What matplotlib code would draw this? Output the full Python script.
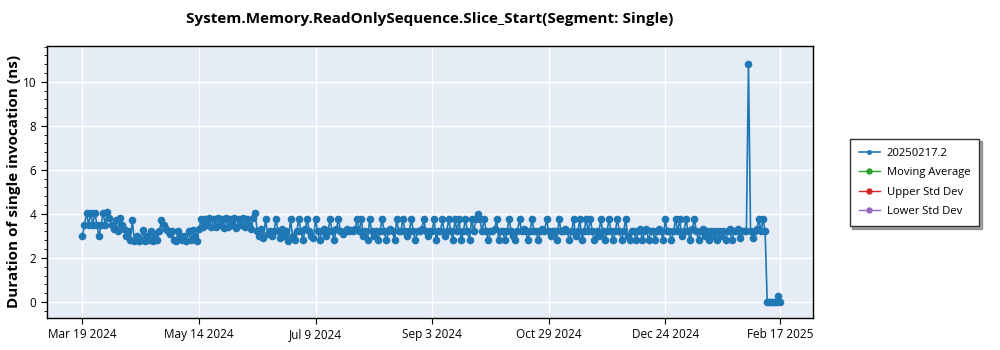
import matplotlib
matplotlib.use("Agg")
import matplotlib.pyplot as plt
import matplotlib.dates as mdates
from matplotlib.ticker import AutoMinorLocator, MultipleLocator
import pandas as pd
import numpy as np

plt.rcParams['font.family'] = ['Open Sans', 'DejaVu Sans']

title = "System.Memory.ReadOnlySequence.Slice_Start(Segment: Single)"
ylabel = "Duration of single invocation (ns)"
series_name = "20250217.2"
start_date = "2024-03-19"
tick_labels_dates = ["2024-03-19", "2024-05-14", "2024-07-09", "2024-09-03",
                     "2024-10-29", "2024-12-24", "2025-02-17"]

# Daily duration measurements (ns), one row per week starting 2024-03-19
durations = [
    3.0, 3.5, 4.05, 3.5, 4.05, 3.5, 4.05,
    3.5, 3.0, 3.5, 4.05, 3.5, 4.1, 3.8,
    3.5, 3.3, 3.7, 3.2, 3.8, 3.5, 3.3,
    3.0, 3.2, 2.8, 3.7, 2.75, 3.0, 2.75,
    2.8, 3.25, 2.75, 3.0, 2.8, 3.2, 2.75,
    3.1, 2.8, 3.2, 3.7, 3.5, 3.3, 3.2,
    3.1, 3.2, 2.8, 2.75, 3.2, 3.0, 2.8,
    3.0, 2.75, 3.2, 2.8, 3.25, 3.0, 2.75,
    3.3, 3.75, 3.4, 3.75, 3.5, 3.8, 3.4,
    3.75, 3.4, 3.8, 3.5, 3.75, 3.35, 3.8,
    3.4, 3.75, 3.5, 3.8, 3.35, 3.75, 3.5,
    3.8, 3.4, 3.75, 3.5, 3.3, 3.8, 4.05,
    3.2, 3.0, 3.3, 2.9, 3.75, 3.1, 3.2,
    3.0, 3.2, 3.75, 3.2, 2.9, 3.3, 3.0,
    3.2, 2.75, 3.75, 3.0, 2.8, 3.2, 3.75,
    3.2, 2.8, 3.3, 3.75, 3.2, 3.0, 2.9,
    3.75, 3.2, 2.8, 3.2, 3.3, 3.0, 3.2,
    3.75, 3.2, 2.8, 3.3, 3.75, 3.2, 3.1,
    3.2, 3.3, 3.2, 3.25, 3.2, 3.3, 3.75,
    3.2, 3.75, 3.0, 3.2, 2.8, 3.75, 3.2,
    3.0, 3.2, 2.8, 3.2, 3.75, 3.2, 2.8,
    3.2, 3.3, 3.2, 2.8, 3.75, 3.2, 3.2,
    3.75, 3.2, 3.0, 3.2, 3.75, 3.2, 2.8,
    3.2, 3.2, 3.3, 3.75, 3.2, 3.0, 3.2,
    3.2, 3.75, 2.8, 3.2, 3.2, 3.75, 3.0,
    3.2, 3.75, 3.2, 2.8, 3.75, 3.2, 3.75,
    2.8, 3.2, 3.75, 3.2, 2.8, 3.75, 3.2,
    3.75, 4.0, 3.75, 3.2, 3.75, 3.2, 2.8,
    3.2, 3.2, 3.3, 3.75, 2.8, 3.2, 3.2,
    2.8, 3.2, 3.75, 3.2, 3.0, 2.8, 3.2,
    3.75, 3.2, 3.3, 3.2, 2.8, 3.2, 3.75,
    3.2, 3.2, 2.8, 3.2, 3.3, 3.2, 3.75,
    3.2, 3.0, 3.2, 3.2, 2.8, 3.75, 3.2,
    3.2, 3.3, 3.2, 2.8, 3.2, 3.75, 3.0,
    3.2, 3.75, 2.8, 3.2, 3.75, 3.2, 3.75,
    3.2, 2.8, 3.2, 3.0, 3.75, 3.2, 2.8,
    3.2, 3.75, 3.2, 2.8, 3.2, 3.75, 3.2,
    2.8, 3.2, 3.75, 3.0, 2.8, 3.2, 3.2,
    2.8, 3.2, 3.3, 2.8, 3.2, 3.3, 2.8,
    3.2, 3.2, 2.8, 3.2, 3.3, 3.2, 2.8,
    3.75, 3.2, 3.2, 2.8, 3.2, 3.75, 3.2,
    3.75, 3.0, 3.2, 3.75, 3.2, 2.8, 3.3,
    3.75, 3.2, 2.8, 3.2, 3.3, 3.0, 3.2,
    2.8, 3.2, 3.0, 3.2, 2.8, 3.2, 3.0,
    3.2, 2.8, 3.2, 3.3, 2.8, 3.2, 3.2,
    3.3, 2.9, 3.2, 3.2, 3.2, 10.8, 3.2,
    2.9, 3.2, 3.3, 3.75, 3.2, 3.75, 3.2,
    0.0, 0.0, 0.0, 0.0, 0.0, 0.25, 0.0,
]

dates = pd.date_range(start_date, periods=len(durations), freq="D")
tick_dates = pd.to_datetime(tick_labels_dates)

fig = plt.figure(figsize=(10, 3.5), dpi=100)
ax = fig.add_axes([0.047, 0.0914, 0.766, 0.778])
ax.set_facecolor("#E5ECF6")

blue = "#1f77b4"
ax.plot(dates, durations, color=blue, lw=1.2, marker="o", ms=5.5,
        markeredgewidth=0, label=series_name, zorder=3)
ax.plot([], [], color="#2ca02c", lw=1.0, marker="o", ms=5.5, label="Moving Average")
ax.plot([], [], color="#d62728", lw=1.0, marker="o", ms=5.5, label="Upper Std Dev")
ax.plot([], [], color="#9467bd", lw=1.0, marker="o", ms=5.5, label="Lower Std Dev")

ax.set_xlim(pd.Timestamp("2024-03-02"), pd.Timestamp("2025-03-05"))
ax.set_ylim(-0.73, 11.64)

ax.set_xticks(tick_dates)
ax.xaxis.set_major_formatter(mdates.DateFormatter("%b %-d %Y"))
ax.yaxis.set_major_locator(MultipleLocator(2))
ax.yaxis.set_minor_locator(AutoMinorLocator(5))

ax.grid(True, which="major", color="white", lw=1.0, zorder=0)
ax.set_axisbelow(True)
for sp in ax.spines.values():
    sp.set_color("black")
    sp.set_linewidth(1.0)

ax.tick_params(axis="both", which="major", labelsize=8.5, length=4, color="black")
ax.tick_params(axis="y", which="minor", length=2.5, color="black")

ax.set_ylabel(ylabel, fontsize=11, fontweight="bold")
ax.yaxis.set_label_coords(-0.034, 0.5)
fig.text(0.43, 0.945, title, ha="center", va="center", fontsize=11, fontweight="bold")

leg = fig.legend(loc="center left", bbox_to_anchor=(0.844, 0.479), fontsize=8.1,
                 frameon=True, fancybox=False, shadow=True, edgecolor="#333333",
                 handlelength=1.9, handletextpad=0.6, borderpad=0.8, labelspacing=0.75,
                 markerscale=0.65)
leg.get_frame().set_linewidth(1.0)

fig.savefig("out.png", dpi=100)
